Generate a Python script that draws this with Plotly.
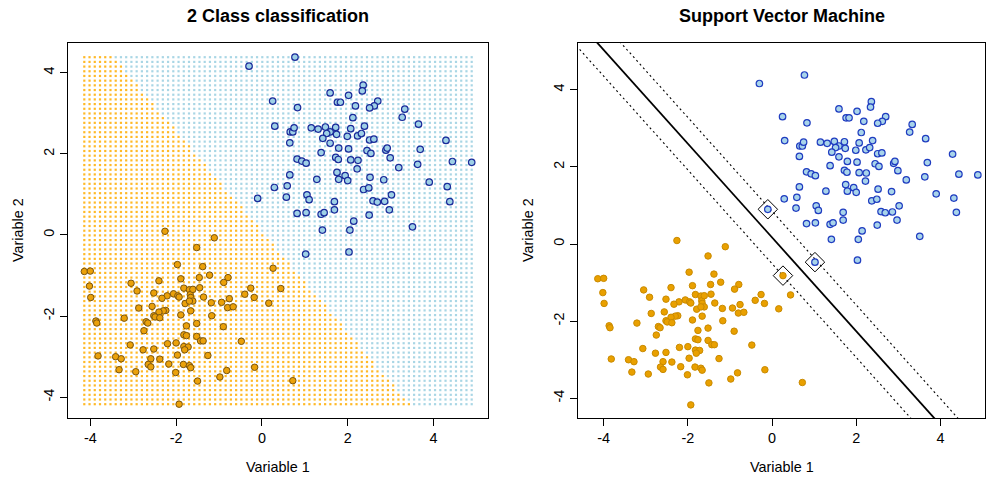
import numpy as np
import plotly.graph_objects as go

# ---------------- data ----------------
blue_x = [0.77, -0.30, 1.59, 2.02, 1.76, 1.83, 2.18, 0.25, 0.83, 2.12,
          0.30, 0.66, 0.72, 0.75, 1.15, 1.31, 1.48, 1.59, 1.72, 1.74,
          1.51, 2.07, 1.42, 1.99, 2.23, 0.65, 1.59, 1.79, 2.02, 1.38,
          2.36, 2.34, 2.70, 2.62, 2.51, 3.33, 3.27, 3.65, 2.39, 2.32,
          2.51, 2.61, 4.29, 2.45, 2.54, 2.89, 2.92, 3.69, 1.72, 1.78,
          0.82, 0.93, 1.03, 2.07, 2.24, 0.65, 1.75, 1.94, 1.79, 2.00,
          1.28, 0.29, 0.59, 1.05, 1.10, -0.10, 0.57, 1.69, 1.69, 0.82,
          1.03, 1.38, 1.45, 2.14, 1.41, 2.05, 1.02, 2.03, 2.22, 2.99,
          3.19, 3.63, 4.44, 4.89, 2.52, 2.84, 3.90, 4.32, 2.37, 2.49,
          3.02, 2.59, 2.69, 2.86, 4.38, 2.97, 2.50, 3.51]
blue_y = [4.38, 4.16, 3.50, 3.44, 3.27, 3.27, 3.18, 3.30, 3.14, 2.89,
          2.68, 2.54, 2.54, 2.64, 2.64, 2.61, 2.66, 2.54, 2.65, 2.48,
          2.50, 2.62, 2.38, 2.43, 2.44, 2.27, 2.26, 2.14, 2.12, 2.03,
          3.69, 3.55, 3.30, 3.18, 3.13, 3.10, 2.90, 2.73, 2.68, 2.50,
          2.34, 2.36, 2.33, 2.08, 2.01, 2.09, 2.14, 2.11, 1.91, 1.86,
          1.87, 1.82, 1.77, 1.85, 1.84, 1.48, 1.54, 1.46, 1.37, 1.34,
          1.37, 1.17, 1.21, 0.99, 0.87, 0.90, 0.93, 0.82, 0.62, 0.53,
          0.55, 0.51, 0.55, 0.34, 0.12, 0.12, -0.47, -0.42, 1.63, 1.90,
          1.66, 1.74, 1.81, 1.79, 1.42, 1.36, 1.30, 1.19, 1.12, 1.16,
          0.99, 0.84, 0.81, 0.83, 0.82, 0.62, 0.49, 0.20]
orange_x = [-2.26, -1.97, -4.14, -4.00, -1.89, -3.05, -2.40, -1.82, -4.02, -2.91,
            -2.52, -2.06, -1.96, -1.93, -1.69, -1.67, -1.66, -2.21, -2.33, -3.99,
            -1.79, -2.56, -2.87, -2.24, -2.30, -2.40, -2.52, -2.49, -1.89, -1.66,
            -3.21, -2.38, -1.11, -1.52, 0.26, -1.38, -1.46, -1.22, -0.79, -0.89,
            -1.45, -1.61, -0.26, 0.44, -0.40, -0.18, -1.36, -0.76, -1.61, -1.69,
            -1.18, -0.94, 0.16, -0.80, -0.67, -1.17, -3.87, -3.85, -2.70, -2.66,
            -2.75, -1.76, -1.82, -1.76, -3.07, -2.77, -2.52, -2.20, -2.00, -1.82,
            -1.72, -1.80, -3.82, -3.41, -3.28, -2.59, -2.38, -1.97, -2.65, -2.59,
            -2.17, -1.83, -1.69, -1.66, -3.33, -2.94, -2.01, -1.93, -1.52, -0.90,
            -1.52, -1.43, -1.37, -0.48, -1.26, -0.17, -0.82, -0.98, -1.50, 0.72]
orange_y = [0.09, -0.73, -0.90, -0.89, -1.08, -1.19, -1.13, -1.31, -1.26, -1.38,
            -1.43, -1.45, -1.50, -1.53, -1.35, -1.47, -1.54, -1.50, -1.56, -1.54,
            -1.69, -1.76, -1.80, -1.86, -1.87, -1.90, -1.99, -2.02, -1.97, -1.87,
            -2.05, -2.04, -0.07, -0.31, -0.82, -0.78, -1.05, -0.99, -1.05, -1.17,
            -1.30, -1.34, -1.31, -1.32, -1.46, -1.54, -1.53, -1.57, -1.63, -1.63,
            -1.67, -1.66, -1.68, -1.79, -1.77, -1.99, -2.12, -2.17, -2.14, -2.17,
            -2.36, -2.24, -2.46, -2.48, -2.71, -2.83, -2.81, -2.68, -2.66, -2.75,
            -2.76, -2.83, -2.98, -3.00, -3.05, -3.05, -3.06, -2.96, -3.19, -3.25,
            -3.18, -3.19, -3.22, -3.27, -3.32, -3.37, -3.39, -4.17, -2.18, -2.26,
            -2.50, -2.61, -2.61, -2.62, -2.97, -3.26, -3.34, -3.50, -3.60, -3.59]

# support vectors (indices into the blue / orange lists)
sv_blue_idx = [65, 76]
sv_orange_idx = [34]

# separating line y = intercept + slope*x, margin half-width (in y)
svm_slope = -1.215
svm_intercept = 0.17
svm_margin = 0.68
# class boundary of the background grid (left panel)
region_slope = -1.24
region_intercept = 0.09
grid_n = 75

tick_vals = [-4, -2, 0, 2, 4]
tick_text = ["-4", "-2", "0", "2", "4"]

titles = ["2 Class classification", "Support Vector Machine"]
xlabel = "Variable 1"
ylabel = "Variable 2"

# ---------------- figure ----------------
W, H = 990, 478
PL, PR, PT, PB = 68, 985, 43, 418       # plot area in page pixels
ML, MR, MT, MB = PL, W - PR, PT, H - PB
PW, PH = W - ML - MR, H - MT - MB
FONT = "Liberation Sans, Arial, sans-serif"

def px(xp):
    return (xp - PL) / PW

def py(yp):
    return (PB - yp) / PH

bx = np.array(blue_x); by = np.array(blue_y)
ox = np.array(orange_x); oy = np.array(orange_y)
allx = np.concatenate([bx, ox]); ally = np.concatenate([by, oy])

gx = np.linspace(allx.min(), allx.max(), grid_n)
gy = np.linspace(ally.min(), ally.max(), grid_n)
GX, GY = np.meshgrid(gx, gy)
GX = GX.ravel(); GY = GY.ravel()
is_blue = GY > region_intercept + region_slope * GX

fig = go.Figure()

# left panel background grid
fig.add_trace(go.Scatter(x=GX[~is_blue], y=GY[~is_blue], mode="markers",
                         marker=dict(symbol="square", size=2.2, color="#FFB927", line_width=0),
                         xaxis="x", yaxis="y", hoverinfo="skip"))
fig.add_trace(go.Scatter(x=GX[is_blue], y=GY[is_blue], mode="markers",
                         marker=dict(symbol="square", size=2.2, color="#A9D6E5", line_width=0),
                         xaxis="x", yaxis="y", hoverinfo="skip"))
# left panel points
fig.add_trace(go.Scatter(x=ox, y=oy, mode="markers",
                         marker=dict(size=6.5, color="#EBA10A", line=dict(color="#7A5510", width=1)),
                         xaxis="x", yaxis="y"))
fig.add_trace(go.Scatter(x=bx, y=by, mode="markers",
                         marker=dict(size=6.5, color="#9ED0E6", line=dict(color="#1A2A9A", width=1.2)),
                         xaxis="x", yaxis="y"))

# right panel lines
xr = np.array([-6.0, 6.0])
for off, dash, w in [(0.0, "solid", 1.8), (svm_margin, "2px,3px", 1.1), (-svm_margin, "2px,3px", 1.1)]:
    fig.add_trace(go.Scatter(x=xr, y=svm_intercept + off + svm_slope * xr, mode="lines",
                             line=dict(color="black", width=w, dash=dash),
                             xaxis="x2", yaxis="y2", hoverinfo="skip"))
# right panel points
fig.add_trace(go.Scatter(x=ox, y=oy, mode="markers",
                         marker=dict(size=6.5, color="#E9A000", line=dict(color="#C98A00", width=1)),
                         xaxis="x2", yaxis="y2"))
fig.add_trace(go.Scatter(x=bx, y=by, mode="markers",
                         marker=dict(size=6.5, color="#A8D4EA", line=dict(color="#1F3CC0", width=1.2)),
                         xaxis="x2", yaxis="y2"))
svx = list(bx[sv_blue_idx]) + list(ox[sv_orange_idx])
svy = list(by[sv_blue_idx]) + list(oy[sv_orange_idx])
fig.add_trace(go.Scatter(x=svx, y=svy, mode="markers",
                         marker=dict(symbol="diamond-open", size=15, color="black", line=dict(width=1)),
                         xaxis="x2", yaxis="y2"))

axis_common = dict(showgrid=False, zeroline=False, showline=True, mirror=True,
                   linecolor="black", linewidth=1, ticks="outside", ticklen=7,
                   tickcolor="black", tickwidth=1, tickvals=tick_vals, ticktext=tick_text,
                   automargin=False,
                   tickfont=dict(family=FONT, size=14.4, color="black"))

fig.update_layout(
    width=W, height=H, margin=dict(l=ML, r=MR, t=MT, b=MB, autoexpand=False),
    paper_bgcolor="white", plot_bgcolor="white", showlegend=False,
    xaxis=dict(domain=[px(68), px(488)], range=[-4.52, 5.27], anchor="y", **axis_common),
    yaxis=dict(domain=[0, 1], range=[-4.51, 4.73], anchor="x", tickangle=-90, **axis_common),
    xaxis2=dict(domain=[px(578), px(985)], range=[-4.61, 5.06], anchor="y2", **axis_common),
    yaxis2=dict(domain=[0, 1], range=[-4.51, 5.21], anchor="x2", tickangle=-90, **axis_common),
)

ann = []
for i, (x0, x1) in enumerate([(68, 488), (578, 985)]):
    cx = px((x0 + x1) / 2)
    ann.append(dict(text="<b>%s</b>" % titles[i], x=cx, y=py(16), xref="paper", yref="paper",
                    showarrow=False, xanchor="center", yanchor="middle",
                    font=dict(family=FONT, size=18, color="black")))
    ann.append(dict(text=xlabel, x=cx, y=py(467), xref="paper", yref="paper",
                    showarrow=False, xanchor="center", yanchor="middle",
                    font=dict(family=FONT, size=14.4, color="black")))
    ann.append(dict(text=ylabel, x=px(x0 - 50), y=py(230), xref="paper", yref="paper",
                    showarrow=False, xanchor="center", yanchor="middle", textangle=-90,
                    font=dict(family=FONT, size=14.4, color="black")))
fig.update_layout(annotations=ann)

# remove the browser's default 8px body margin so the figure fills the window
fig.write_html("out.html", config={"displayModeBar": False},
               post_script="document.body.style.margin='0px';document.body.style.overflow='hidden';")
